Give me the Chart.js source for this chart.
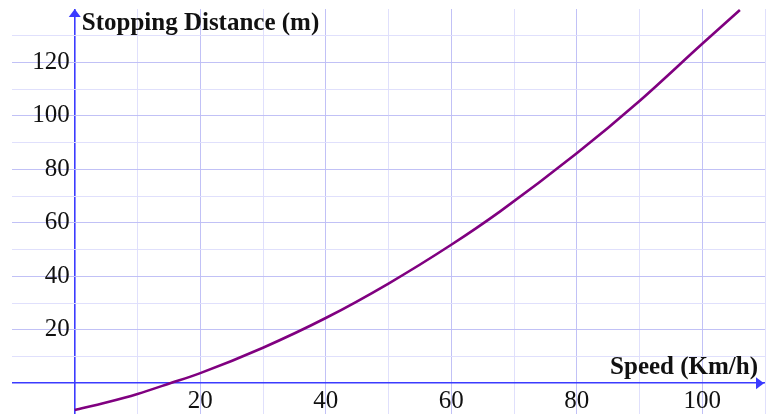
<!DOCTYPE html>
<html>
<head>
<meta charset="utf-8">
<script src="https://cdn.jsdelivr.net/npm/chart.js@4.4.1/dist/chart.umd.min.js"></script>
<style>
  html, body { margin: 0; padding: 0; background: #ffffff; }
  #wrap { width: 767px; height: 414px; position: relative; }
</style>
</head>
<body>
<div id="wrap"><canvas id="c"></canvas></div>
<script>
// ---- data ----
const speeds    = [0, 5, 10, 15.2, 20, 30, 40, 50, 60, 67.8, 80, 90, 100, 106];
const distances = [-10, -7.2, -4, 0, 3.8, 13.3, 24.4, 37.3, 51.8, 64.3, 86, 105.6, 127, 139.6];
const xGridValues = [-10, 0, 10, 20, 30, 40, 50, 60, 70, 80, 90, 100, 110];
const yGridValues = [-10, 0, 10, 20, 30, 40, 50, 60, 70, 80, 90, 100, 110, 120, 130, 140];
const xTickLabels = [20, 40, 60, 80, 100];
const yTickLabels = [20, 40, 60, 80, 100, 120];
const xTitle = 'Speed (Km/h)';
const yTitle = 'Stopping Distance (m)';

const AXIS_BLUE = '#3b3bff';
const GRID_MAJOR = 'rgba(190,190,245,0.95)';
const GRID_MINOR = 'rgba(222,222,252,0.95)';
const FONT = '"Liberation Serif", "Times New Roman", serif';

function gridColor(ctx) {
  const v = ctx.tick ? ctx.tick.value : null;
  if (v === 0) return AXIS_BLUE;
  if (v === -10 || v === 140 || v === null) return 'rgba(0,0,0,0)';
  return (v % 20 === 0) ? GRID_MAJOR : GRID_MINOR;
}
function gridWidth(ctx) {
  const v = ctx.tick ? ctx.tick.value : null;
  return v === 0 ? 1.6 : 1;
}
function noPad(s) {
  s.paddingTop = 0; s.paddingBottom = 0; s.paddingLeft = 0; s.paddingRight = 0;
}

const overlay = {
  id: 'overlay',
  beforeDraw(chart) {
    // keep a small gap between the y tick labels and the y axis line
    const ys = chart.scales.y;
    ys._labelItems = ys._computeLabelItems(chart.chartArea);
    ys._labelItems.forEach(it => { it.options.translation[0] -= 5; });
  },
  afterDraw(chart) {
    const ctx = chart.ctx;
    const xs = chart.scales.x, ys = chart.scales.y;
    const x0 = xs.getPixelForValue(0);
    const y0 = ys.getPixelForValue(0);
    const top = chart.chartArea.top;
    const right = chart.chartArea.right;
    ctx.save();
    ctx.fillStyle = AXIS_BLUE;
    // y-axis arrowhead
    ctx.beginPath();
    ctx.moveTo(x0, top);
    ctx.lineTo(x0 - 6, top + 8);
    ctx.lineTo(x0 + 6, top + 8);
    ctx.closePath();
    ctx.fill();
    // x-axis arrowhead
    ctx.beginPath();
    ctx.moveTo(right - 1, y0);
    ctx.lineTo(right - 9, y0 - 6);
    ctx.lineTo(right - 9, y0 + 6);
    ctx.closePath();
    ctx.fill();
    // axis titles
    ctx.fillStyle = '#111111';
    ctx.font = 'bold 25px ' + FONT;
    ctx.textBaseline = 'alphabetic';
    ctx.textAlign = 'left';
    ctx.fillText(yTitle, x0 + 7, 30);
    ctx.textAlign = 'right';
    ctx.fillText(xTitle, right - 7, y0 - 9);
    ctx.restore();
  }
};

new Chart(document.getElementById('c'), {
  type: 'line',
  data: {
    datasets: [{
      data: speeds.map((s, i) => ({ x: s, y: distances[i] })),
      borderColor: '#800080',
      borderWidth: 2.6,
      pointRadius: 0,
      fill: false,
      cubicInterpolationMode: 'monotone'
    }]
  },
  options: {
    responsive: true,
    maintainAspectRatio: false,
    animation: false,
    events: [],
    layout: { padding: { left: 12, right: 2, top: 9, bottom: 0 } },
    plugins: { legend: { display: false }, tooltip: { enabled: false }, title: { display: false } },
    scales: {
      x: {
        type: 'linear',
        position: { y: 0 },
        min: -10, max: 110,
        afterBuildTicks: s => { s.ticks = xGridValues.map(v => ({ value: v })); },
        afterFit: s => { s.height = 0; noPad(s); },
        border: { display: false },
        grid: { color: gridColor, lineWidth: gridWidth, drawTicks: false },
        ticks: {
          padding: 3,
          color: '#111111',
          font: { family: FONT, size: 25 },
          maxRotation: 0,
          autoSkip: false,
          callback: v => xTickLabels.includes(v) ? String(v) : ''
        }
      },
      y: {
        type: 'linear',
        position: { x: 0 },
        min: -11.5, max: 140,
        afterBuildTicks: s => { s.ticks = yGridValues.map(v => ({ value: v })); },
        afterFit: s => { s.width = 0; noPad(s); },
        border: { display: false },
        grid: { color: gridColor, lineWidth: gridWidth, drawTicks: false },
        ticks: {
          padding: 4,
          color: '#111111',
          font: { family: FONT, size: 25 },
          autoSkip: false,
          callback: v => yTickLabels.includes(v) ? String(v) : ''
        }
      }
    }
  },
  plugins: [overlay]
});
</script>
</body>
</html>
